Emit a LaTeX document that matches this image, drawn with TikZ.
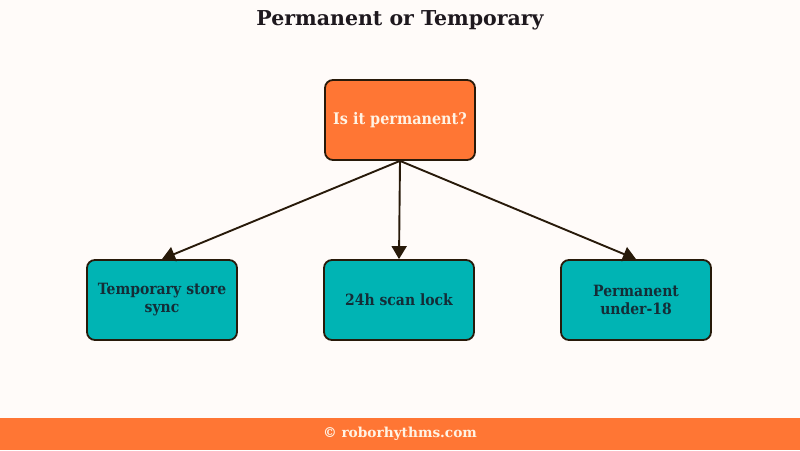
\documentclass[tikz,border=0pt]{standalone}
\usepackage{fontspec}
\setmainfont{DejaVu Serif}
\newfontfamily\nodefont{DejaVu Serif}[FakeStretch=0.9]
\usetikzlibrary{arrows.meta}
\definecolor{bg}{RGB}{255,251,249}
\definecolor{orangec}{RGB}{255,118,52}
\definecolor{tealc}{RGB}{0,180,180}
\definecolor{edgec}{RGB}{40,26,10}
\definecolor{creamc}{RGB}{255,243,228}
\definecolor{titlec}{RGB}{30,24,30}
\definecolor{tealtext}{RGB}{20,45,55}
\tikzset{
  box/.style={draw=edgec, line width=1.8pt, rounded corners=8pt, minimum width=150pt, minimum height=80pt, align=center, inner sep=2pt},
  topbox/.style={box, fill=orangec, text=creamc, font=\nodefont\bfseries\fontsize{16}{19}\selectfont},
  leafbox/.style={box, fill=tealc, text=tealtext, font=\nodefont\bfseries\fontsize{15.5}{18}\selectfont},
  conn/.style={draw=edgec, line width=1.9pt, -{Triangle[length=13pt,width=15pt]}}
}
\begin{document}
\begin{tikzpicture}[x=1pt,y=-1pt]
\fill[bg] (0,0) rectangle (800,450);
\useasboundingbox (0,0) rectangle (800,450);
\node[font=\bfseries\fontsize{20.5}{24}\selectfont, text=titlec] (title) at (400,20) {Permanent or Temporary};
\node[topbox] (q) at (400,120) {Is it permanent?};
\node[leafbox, text width=144pt] (l) at (162,300) {Temporary store\\sync};
\node[leafbox] (m) at (399,300) {24h scan lock};
\node[leafbox, text width=144pt] (r) at (636,300) {Permanent\\under-18};
\draw[conn] (q.south) -- (l.north);
\draw[conn] (q.south) -- (m.north);
\draw[conn] (q.south) -- (r.north);
\fill[orangec] (0,418) rectangle (800,450);
\node[font=\bfseries\fontsize{13.7}{16}\selectfont, text=creamc] (foot) at (400,434) {© roborhythms.com};
\end{tikzpicture}
\end{document}
